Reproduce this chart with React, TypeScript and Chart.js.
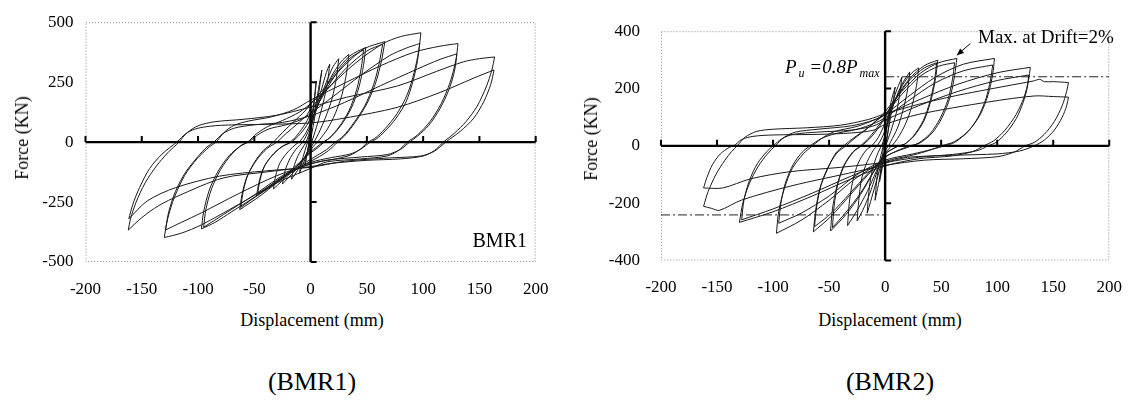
import { useEffect, useRef } from 'react';
import { Chart, registerables } from 'chart.js';
Chart.register(...registerables);

type P = [number, number];

const SERIF = '"Liberation Serif", "Times New Roman", serif';

// ---------- BMR1 cycles (x = displacement mm, y = force kN) ----------
const bmr1_163a: P[] = [[-162,-367],[-160,-320],[-155,-250],[-147,-170],[-137,-100],[-127,-45],[-117,0],[-110,38],[-100,68],[-85,85],[-60,95],[-30,112],[0,146],[32,187],[77,234],[112,295],[136,335],[150,348],[163.5,355],[161,300],[156,230],[148,150],[138,85],[128,38],[118,0],[110,-35],[100,-58],[80,-70],[50,-76],[20,-88],[0,-102],[-40,-125],[-78,-150],[-117,-223],[-135,-265],[-150,-315],[-162,-367]];
const bmr1_163b: P[] = [[-161.5,-320],[-158,-260],[-152,-190],[-143,-110],[-132,-50],[-119,0],[-110,38],[-100,58],[-80,70],[-40,74],[0,80],[30,100],[77,145],[115,207],[145,267],[163,301],[160,240],[154,170],[145,100],[133,45],[120,0],[110,-38],[98,-58],[70,-66],[30,-80],[0,-105],[-40,-120],[-81,-142],[-120,-190],[-145,-245],[-161.5,-320]];
const bmr1_130a: P[] = [[-130,-398],[-127,-320],[-121,-230],[-112,-140],[-101,-70],[-90,-20],[-84,0],[-77,40],[-68,70],[-55,88],[-35,105],[-15,135],[0,175],[32,250],[62,318],[92,375],[115,400],[131,411],[129,340],[124,250],[116,160],[106,85],[95,30],[86,0],[78,-35],[68,-58],[45,-70],[15,-82],[0,-110],[-30,-170],[-64,-260],[-97,-345],[-115,-380],[-130,-398]];
const bmr1_130b: P[] = [[-129,-367],[-126,-290],[-120,-205],[-111,-125],[-100,-60],[-92,-20],[-86,0],[-78,35],[-68,58],[-50,72],[-25,82],[0,110],[30,165],[62,235],[95,305],[115,345],[130,368],[128,300],[123,220],[115,140],[105,70],[95,25],[88,0],[80,-30],[68,-52],[45,-62],[15,-75],[0,-92],[-30,-140],[-64,-215],[-97,-295],[-115,-335],[-129,-367]];
const bmr1_97a: P[] = [[-97,-362],[-95,-290],[-90,-200],[-82,-120],[-72,-55],[-62,-15],[-56,0],[-48,35],[-38,65],[-25,90],[-10,125],[0,160],[20,245],[40,330],[64,410],[80,440],[98,456],[96,380],[92,290],[86,200],[77,120],[66,55],[57,15],[51,0],[44,-30],[35,-55],[20,-72],[0,-90],[-25,-145],[-50,-230],[-70,-290],[-85,-335],[-97,-362]];
const bmr1_97b: P[] = [[-95,-355],[-93,-280],[-88,-195],[-80,-115],[-70,-50],[-61,-12],[-55,0],[-47,30],[-37,55],[-22,72],[-8,95],[0,120],[20,190],[45,280],[70,360],[85,392],[97,411],[95,340],[91,255],[85,170],[76,100],[66,45],[58,12],[53,0],[45,-28],[35,-50],[18,-65],[0,-85],[-25,-140],[-50,-220],[-70,-280],[-85,-325],[-95,-355]];
const bmr1_64a: P[] = [[-63,-282],[-61,-220],[-57,-150],[-50,-85],[-42,-35],[-33,0],[-25,40],[-15,85],[-5,130],[0,160],[15,240],[30,320],[48,390],[66,419],[63,340],[58,250],[50,160],[40,85],[31,30],[24,0],[16,-35],[8,-60],[0,-80],[-15,-120],[-30,-170],[-45,-225],[-63,-282]];
const bmr1_64b: P[] = [[-62,-272],[-60,-210],[-56,-140],[-48,-75],[-39,-28],[-30,0],[-22,35],[-12,75],[-3,115],[0,140],[15,220],[32,310],[50,380],[64,408],[61,330],[56,240],[48,150],[38,78],[29,25],[22,0],[14,-32],[6,-55],[0,-72],[-15,-115],[-30,-165],[-45,-215],[-62,-272]];
const bmr1_48a: P[] = [[-48,-225],[-46,-170],[-42,-110],[-35,-60],[-26,-20],[-18,0],[-10,40],[-3,90],[0,120],[10,200],[22,290],[35,360],[49,395],[47,320],[43,230],[36,140],[27,70],[18,22],[12,0],[6,-25],[0,-45],[-10,-90],[-22,-140],[-35,-185],[-48,-225]];
const bmr1_48b: P[] = [[-47,-215],[-45,-160],[-41,-100],[-34,-55],[-25,-18],[-17,0],[-9,35],[-2,80],[0,105],[10,185],[22,280],[35,350],[47,385],[45,310],[41,220],[34,130],[25,62],[17,18],[11,0],[5,-22],[0,-40],[-10,-85],[-22,-135],[-35,-178],[-47,-215]];
const bmr1_33: P[] = [[-33,-195],[-31,-140],[-27,-85],[-20,-40],[-12,-5],[-10,0],[-4,40],[0,80],[8,170],[18,270],[27,335],[34,366],[32,290],[28,200],[22,120],[15,55],[8,10],[6,0],[2,-20],[0,-35],[-8,-80],[-18,-130],[-26,-165],[-33,-195]];
const bmr1_25: P[] = [[-25,-175],[-23,-125],[-19,-75],[-13,-30],[-7,0],[-2,45],[0,70],[7,160],[14,250],[20,315],[25,348],[23,270],[19,180],[13,100],[7,35],[3,0],[0,-25],[-7,-75],[-14,-120],[-20,-150],[-25,-175]];
const bmr1_17: P[] = [[-17,-155],[-15,-105],[-11,-55],[-6,-15],[-4,0],[0,55],[5,140],[10,225],[14,290],[17,325],[15,250],[11,160],[6,75],[2,15],[0,-10],[-5,-60],[-10,-105],[-14,-135],[-17,-155]];
const bmr1_10: P[] = [[-10,-130],[-8,-85],[-5,-35],[-2,10],[0,50],[4,140],[7,220],[10,300],[8,230],[5,140],[2,60],[0,10],[-3,-45],[-7,-95],[-10,-130]];
const bmr1_5: P[] = [[-5,-95],[-3,-45],[-1,10],[0,50],[2,130],[4,210],[5,255],[4,200],[2,120],[0,40],[-2,-20],[-4,-70],[-5,-95]];

// ---------- BMR2 cycles ----------
const bmr2_163a: P[] = [[-162,-211],[-158,-160],[-151,-100],[-143,-50],[-137,-20],[-132,0],[-125,30],[-115,50],[-100,58],[-70,63],[-40,72],[-15,92],[0,112],[30,145],[63,175],[107,208],[132,226],[138,232],[142,224],[150,224],[163.6,221],[162,190],[158,140],[151,85],[142,40],[133,12],[125,0],[115,-22],[100,-38],[70,-45],[35,-50],[0,-68],[-26,-90],[-84,-140],[-128,-189],[-148,-225],[-155,-218],[-162,-211]];
const bmr2_163b: P[] = [[-162,-147],[-159,-110],[-154,-65],[-147,-28],[-139,-5],[-135,0],[-128,22],[-118,33],[-100,38],[-60,40],[-30,45],[-10,55],[0,75],[30,110],[92,153],[133,174],[150,172],[163.6,170],[162,140],[158,100],[151,55],[142,20],[133,0],[120,-18],[100,-28],[60,-33],[20,-40],[0,-57],[-40,-75],[-84.5,-90],[-120,-115],[-145,-147],[-162,-147]];
const bmr2_130a: P[] = [[-130,-267],[-127,-200],[-121,-130],[-113,-70],[-105,-28],[-98,0],[-90,30],[-80,48],[-60,58],[-30,70],[-10,90],[0,108],[30,160],[65,215],[100,255],[129.6,274],[128,230],[124,170],[117,110],[107,55],[97,18],[88,0],[78,-20],[60,-35],[30,-45],[0,-70],[-30,-115],[-65,-175],[-100,-230],[-130,-267]];
const bmr2_130b: P[] = [[-128,-258],[-126,-190],[-121,-120],[-114,-62],[-106,-22],[-100,0],[-92,25],[-82,40],[-60,48],[-30,55],[-10,70],[0,90],[30,140],[65,190],[100,228],[128,247],[127,205],[123,150],[117,95],[108,45],[99,12],[92,0],[82,-17],[60,-30],[30,-40],[0,-60],[-30,-105],[-65,-165],[-100,-220],[-128,-258]];
const bmr2_97a: P[] = [[-97,-305],[-95,-230],[-90,-150],[-83,-80],[-73,-28],[-65,0],[-55,30],[-45,50],[-25,68],[-10,90],[0,110],[20,170],[45,240],[70,285],[97.6,305],[96,250],[92,180],[85,110],[75,55],[62,15],[50,0],[40,-15],[25,-32],[0,-55],[-25,-110],[-50,-190],[-75,-260],[-97,-305]];
const bmr2_97b: P[] = [[-95,-270],[-93,-200],[-89,-130],[-82,-65],[-74,-22],[-67,0],[-57,25],[-45,42],[-25,58],[-10,78],[0,98],[20,155],[45,220],[70,262],[96,282],[94,230],[90,165],[83,100],[74,50],[62,12],[53,0],[42,-12],[25,-28],[0,-50],[-25,-100],[-50,-175],[-75,-235],[-95,-270]];
const bmr2_64a: P[] = [[-64,-300],[-62,-225],[-58,-145],[-51,-75],[-43,-25],[-35,0],[-26,30],[-16,60],[-6,95],[0,120],[15,190],[32,255],[48,290],[64,305],[62,245],[58,170],[51,100],[42,45],[31,10],[22,0],[12,-15],[0,-40],[-15,-100],[-32,-175],[-48,-245],[-64,-300]];
const bmr2_64b: P[] = [[-63,-282],[-61,-210],[-57,-135],[-50,-70],[-44,-25],[-37,0],[-28,28],[-18,55],[-7,90],[0,110],[15,180],[32,245],[48,278],[62,290],[60,230],[56,160],[49,95],[40,42],[30,10],[24,0],[13,-15],[0,-38],[-15,-95],[-32,-168],[-48,-235],[-63,-282]];
const bmr2_48a: P[] = [[-48.7,-297],[-47,-220],[-43,-140],[-37,-70],[-29,-22],[-22,0],[-14,30],[-6,70],[0,105],[10,170],[22,235],[35,280],[47,299],[45,235],[41,160],[35,90],[26,35],[17,5],[12,0],[5,-15],[0,-30],[-10,-90],[-22,-170],[-35,-240],[-48.7,-297]];
const bmr2_48b: P[] = [[-47,-285],[-45.5,-210],[-42,-130],[-36,-65],[-28,-20],[-21,0],[-13,28],[-5,68],[0,100],[10,165],[22,230],[35,272],[46,290],[44,228],[40,155],[34,88],[25,33],[17,5],[12,0],[5,-14],[0,-28],[-10,-88],[-22,-165],[-35,-232],[-47,-285]];
const bmr2_33: P[] = [[-33.5,-278],[-32,-200],[-29,-125],[-24,-60],[-17,-15],[-12,0],[-6,30],[0,80],[8,150],[16,215],[24,255],[30,272],[28,210],[24,140],[18,75],[11,25],[6,0],[0,-25],[-8,-90],[-16,-160],[-25,-225],[-33.5,-278]];
const bmr2_25: P[] = [[-25,-262],[-23.5,-190],[-21,-115],[-16,-55],[-10,-12],[-7,0],[-2,35],[3,90],[9,160],[15,215],[22,258],[20,195],[16,125],[11,62],[5,15],[3,0],[-2,-30],[-8,-100],[-14,-170],[-20,-225],[-25,-262]];
const bmr2_17: P[] = [[-16,-235],[-14.5,-160],[-12,-95],[-8,-40],[-4,-5],[-3,0],[0,40],[4,110],[9,180],[15,240],[13,180],[10,115],[5,50],[1,5],[0,-10],[-4,-70],[-9,-140],[-13,-195],[-16,-235]];
const bmr2_10: P[] = [[-9,-190],[-7.5,-120],[-5,-55],[-2,-5],[0,40],[3,110],[6,165],[9,205],[7,150],[4,80],[1,15],[0,-15],[-3,-75],[-6,-135],[-9,-190]];
const bmr2_5: P[] = [[-5,-125],[-3.5,-65],[-1.5,-10],[0,25],[2,75],[5,135],[3.5,80],[1.5,20],[0,-20],[-2,-65],[-5,-125]];

const bmr1Cycles: P[][] = [bmr1_5, bmr1_10, bmr1_17, bmr1_25, bmr1_33, bmr1_48a, bmr1_48b, bmr1_64a, bmr1_64b, bmr1_97a, bmr1_97b, bmr1_130a, bmr1_130b, bmr1_163a, bmr1_163b];
const bmr2Cycles: P[][] = [bmr2_5, bmr2_10, bmr2_17, bmr2_25, bmr2_33, bmr2_48a, bmr2_48b, bmr2_64a, bmr2_64b, bmr2_97a, bmr2_97b, bmr2_130a, bmr2_130b, bmr2_163a, bmr2_163b];

// ---------- ticks and reference lines ----------
const xTicks = [-200, -150, -100, -50, 0, 50, 100, 150, 200];
const bmr1YTicks = [-500, -250, 0, 250, 500];
const bmr2YTicks = [-400, -200, 0, 200, 400];
const puPositive: P[] = [[0, 241], [200, 241]];
const puNegative: P[] = [[-200, -241], [0, -241]];
const maxArrow: P[] = [[76, 357], [64, 316]];

function splitCycle(c: P[]): P[][] {
  let k = 0;
  c.forEach((p, i) => { if (p[0] > c[k][0]) k = i; });
  return [c.slice(0, k + 1), c.slice(k)];
}

interface Cfg {
  cycles: P[][];
  dashed: P[][];
  arrow?: P[];
  yTicks: number[];
  area: { left: number; right: number; top: number; bottom: number };
  x: number; w: number; h: number; yPad: number;
}

function Hyst({ cfg }: { cfg: Cfg }) {
  const ref = useRef<HTMLCanvasElement>(null);
  useEffect(() => {
    const { area, w, h } = cfg;
    const datasets: any[] = [];
    cfg.cycles.forEach((c) => splitCycle(c).forEach((b) => datasets.push({
      data: b.map(([x, y]) => ({ x, y })), showLine: true, borderColor: '#1a1a1a', borderWidth: 1,
      pointRadius: 0, tension: 0.3, fill: false,
    })));
    cfg.dashed.forEach((d) => datasets.push({
      data: d.map(([x, y]) => ({ x, y })), showLine: true, borderColor: '#222', borderWidth: 1,
      borderDash: [9, 3, 2, 3], pointRadius: 0, tension: 0, fill: false,
    }));
    const yT = cfg.yTicks;
    const deco = {
      id: 'deco',
      beforeDatasetsDraw(chart: any) {
        const { ctx, chartArea: a } = chart;
        ctx.save();
        ctx.strokeStyle = '#8a8a8a';
        ctx.lineWidth = 1;
        ctx.setLineDash([1, 2]);
        ctx.strokeRect(a.left + 0.5, a.top + 0.5, a.right - a.left - 1, a.bottom - a.top - 1);
        ctx.restore();
      },
      afterDatasetsDraw(chart: any) {
        const { ctx, chartArea: a, scales } = chart;
        const xs = scales.x, ys = scales.y;
        const x0 = xs.getPixelForValue(0), y0 = ys.getPixelForValue(0);
        ctx.save();
        ctx.strokeStyle = '#000';
        ctx.lineWidth = 2.4;
        ctx.beginPath();
        ctx.moveTo(a.left, y0); ctx.lineTo(a.right, y0);
        ctx.moveTo(x0, a.top); ctx.lineTo(x0, a.bottom);
        ctx.stroke();
        ctx.lineWidth = 2;
        ctx.beginPath();
        xTicks.forEach((v) => {
          if (v === 0) return;
          const px = xs.getPixelForValue(v);
          ctx.moveTo(px, y0); ctx.lineTo(px, y0 - 6);
        });
        yT.forEach((v) => {
          if (v === 0) return;
          const py = ys.getPixelForValue(v);
          ctx.moveTo(x0, py); ctx.lineTo(x0 + 6, py);
        });
        ctx.stroke();
        if (cfg.arrow) {
          const [p0, p1] = cfg.arrow;
          const ax = xs.getPixelForValue(p0[0]), ay = ys.getPixelForValue(p0[1]);
          const bx = xs.getPixelForValue(p1[0]), by = ys.getPixelForValue(p1[1]);
          ctx.lineWidth = 1;
          ctx.beginPath(); ctx.moveTo(ax, ay); ctx.lineTo(bx, by); ctx.stroke();
          const ang = Math.atan2(by - ay, bx - ax);
          const L = 7, W = 3;
          ctx.fillStyle = '#000';
          ctx.beginPath();
          ctx.moveTo(bx, by);
          ctx.lineTo(bx - L * Math.cos(ang) + W * Math.sin(ang), by - L * Math.sin(ang) - W * Math.cos(ang));
          ctx.lineTo(bx - L * Math.cos(ang) - W * Math.sin(ang), by - L * Math.sin(ang) + W * Math.cos(ang));
          ctx.closePath(); ctx.fill();
        }
        ctx.restore();
      },
    };
    const tickFont = { family: SERIF, size: 17 };
    const chart = new Chart(ref.current!, {
      type: 'scatter',
      data: { datasets },
      options: {
        animation: false, responsive: false, devicePixelRatio: 1, events: [],
        layout: { padding: { left: 0, top: area.top, right: w - area.right, bottom: 0 } },
        plugins: { legend: { display: false }, tooltip: { enabled: false } },
        scales: {
          x: {
            type: 'linear', min: -200, max: 200,
            afterBuildTicks: (s: any) => { s.ticks = xTicks.map((v) => ({ value: v })); },
            afterFit: (s: any) => { s.height = h - area.bottom; },
            grid: { display: false, drawTicks: false }, border: { display: false },
            ticks: { color: '#000', font: tickFont, padding: 17, maxRotation: 0, autoSkip: false },
          },
          y: {
            type: 'linear', min: yT[0], max: yT[yT.length - 1],
            afterBuildTicks: (s: any) => { s.ticks = yT.map((v) => ({ value: v })); },
            afterFit: (s: any) => { s.width = area.left; },
            grid: { display: false, drawTicks: false }, border: { display: false },
            ticks: { color: '#000', font: tickFont, padding: cfg.yPad, autoSkip: false },
          },
        },
      } as any,
      plugins: [deco],
    });
    return () => chart.destroy();
  }, [cfg]);
  return <canvas ref={ref} width={cfg.w} height={cfg.h} style={{ position: 'absolute', left: cfg.x, top: 0 }} />;
}

const leftCfg: Cfg = {
  cycles: bmr1Cycles, dashed: [], yTicks: bmr1YTicks,
  area: { left: 85.5, right: 535.7, top: 13, bottom: 262 }, x: 0, w: 570, h: 310, yPad: 12,
};
const rightCfg: Cfg = {
  cycles: bmr2Cycles, dashed: [puPositive, puNegative], arrow: maxArrow, yTicks: bmr2YTicks,
  area: { left: 91, right: 548.5, top: 17.5, bottom: 260.5 }, x: 570, w: 569, h: 310, yPad: 21,
};

const txt = (extra: any): any => ({ position: 'absolute', fontFamily: SERIF, color: '#000', whiteSpace: 'nowrap', lineHeight: 1, ...extra });

export default function App() {
  return (
    <div style={{ position: 'absolute', left: 0, top: 0, width: 1139, height: 405, background: '#fff', overflow: 'hidden' }}>
      <Hyst cfg={leftCfg} />
      <Hyst cfg={rightCfg} />
      <div style={txt({ left: 22, top: 138, fontSize: 18, transform: 'translate(-50%,-50%) rotate(-90deg)' })}>Force (KN)</div>
      <div style={txt({ left: 591, top: 139, fontSize: 18, transform: 'translate(-50%,-50%) rotate(-90deg)' })}>Force (KN)</div>
      <div style={txt({ left: 312, top: 320, fontSize: 18, transform: 'translate(-50%,-50%)' })}>Displacement (mm)</div>
      <div style={txt({ left: 890, top: 320, fontSize: 18, transform: 'translate(-50%,-50%)' })}>Displacement (mm)</div>
      <div style={txt({ left: 312, top: 382, fontSize: 26, transform: 'translate(-50%,-50%)' })}>(BMR1)</div>
      <div style={txt({ left: 890, top: 382, fontSize: 26, transform: 'translate(-50%,-50%)' })}>(BMR2)</div>
      <div style={txt({ left: 527, top: 240, fontSize: 20, transform: 'translate(-100%,-50%)' })}>BMR1</div>
      <div style={txt({ left: 978, top: 36, fontSize: 19, transform: 'translate(0,-50%)' })}>Max. at Drift=2%</div>
      <div style={txt({ left: 785, top: 66, fontSize: 19, fontStyle: 'italic', transform: 'translate(0,-50%)' })}>
        P<span style={{ fontSize: 12, position: 'relative', top: 4, marginLeft: 2 }}>u</span> =0.8P<span style={{ fontSize: 12, position: 'relative', top: 4, marginLeft: 2 }}>max</span>
      </div>
    </div>
  );
}
